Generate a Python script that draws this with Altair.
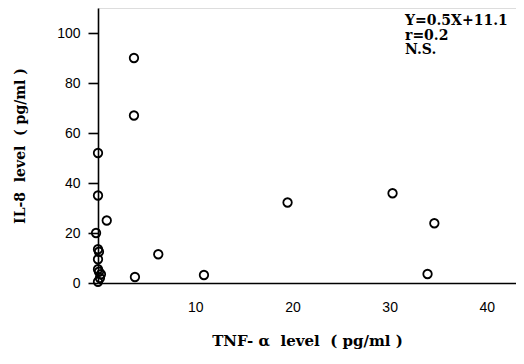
import altair as alt
import pandas as pd

# TNF-alpha (pg/ml) vs IL-8 (pg/ml)
tnf = [0, 0, -0.2, 0, 0.1, 0, 0, 0.1, 0.3, 0.2, 0, 0.9,
       3.7, 3.7, 3.8, 6.2, 10.9, 19.5, 30.3, 34.6, 33.9]
il8 = [52, 35, 20, 13.5, 12.5, 9.5, 5.5, 4.5, 3.5, 2, 0.5, 25,
       90, 67, 2.4, 11.5, 3.2, 32.2, 35.9, 23.9, 3.6]

x_ticks = [10, 20, 30, 40]
y_ticks = [0, 20, 40, 60, 80, 100]
note_lines = ["Y=0.5X+11.1", "r=0.2", "N.S."]

df = pd.DataFrame({"tnf": tnf, "il8": il8})

W, H = 418, 275

points = alt.Chart(df).mark_point(
    shape="circle", filled=False, color="black", size=72, strokeWidth=1.8, opacity=1
).encode(
    x=alt.X("tnf:Q",
            scale=alt.Scale(domain=[0, 43], nice=False, zero=False),
            axis=alt.Axis(values=x_ticks, title="TNF- α\u00a0 level\u00a0 ( pg/ml )",
                          grid=False, ticks=False, labelPadding=17,
                          labelFont="Liberation Sans", labelFontSize=14,
                          labelColor="black",
                          titleFont="DejaVu Serif", titleFontSize=15,
                          titleFontWeight="bold", titleColor="black",
                          titlePadding=19, domainColor="black", domainWidth=1.6)),
    y=alt.Y("il8:Q",
            scale=alt.Scale(domain=[0, 110], nice=False),
            axis=alt.Axis(values=y_ticks, title="IL-8\u00a0 level\u00a0 ( pg/ml )",
                          grid=False, tickSize=10, tickColor="black", tickWidth=1.6,
                          labelPadding=8,
                          labelFont="Liberation Sans", labelFontSize=14,
                          labelColor="black",
                          titleFont="DejaVu Serif", titleFontSize=14,
                          titleFontWeight="bold", titleColor="black",
                          titleX=-78, titleY=H / 2, titleAngle=-90,
                          titleAlign="center", titleBaseline="middle",
                          domainColor="black", domainWidth=1.6)),
)

note = alt.Chart(pd.DataFrame({"t": [note_lines]})).mark_text(
    align="left", baseline="top", font="DejaVu Serif", fontSize=14,
    fontWeight="bold", lineHeight=14.5, color="black"
).encode(
    x=alt.value(307), y=alt.value(6), text="t"
)

chart = (points + note).properties(
    width=W, height=H,
    padding={"left": 90, "top": 0, "right": 0, "bottom": 73},
    autosize="none",
).configure_view(stroke=None).configure(background="white")

chart.save("out.html", embed_options={"renderer": "svg", "actions": False})
